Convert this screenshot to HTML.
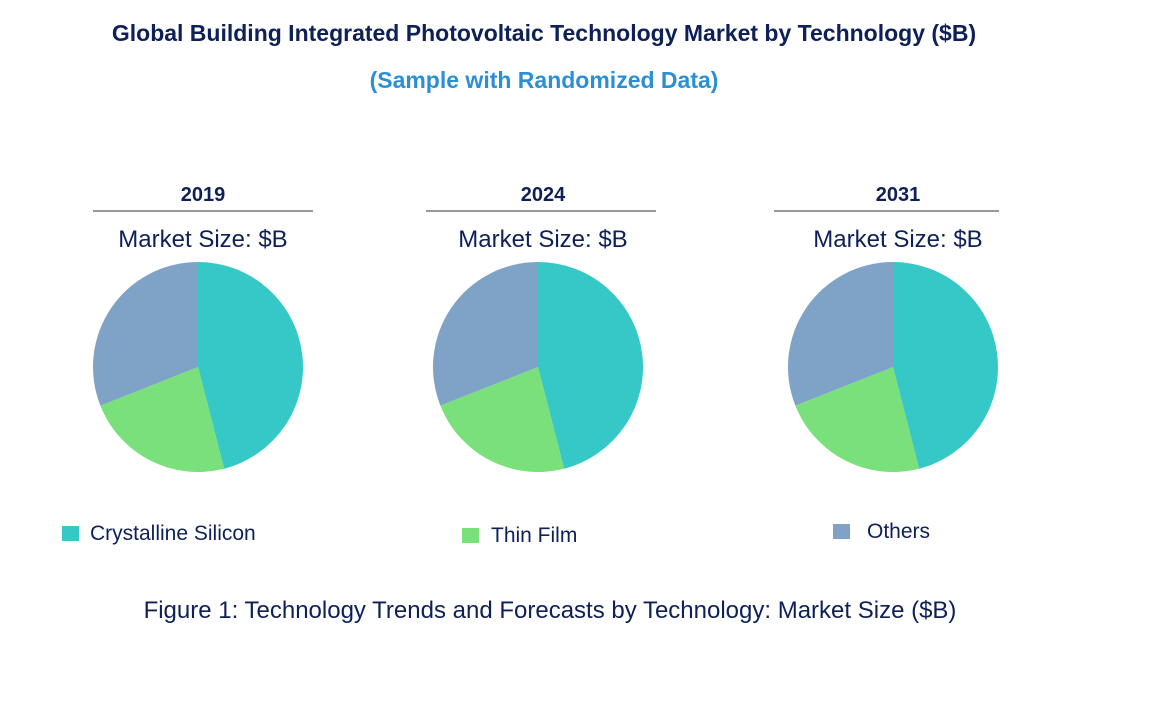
<!DOCTYPE html>
<html><head><meta charset="utf-8"><style>
body{margin:0;width:1170px;height:723px;background:#fff;font-family:"Liberation Sans",sans-serif;overflow:hidden}
svg{position:absolute;left:0;top:0}
</style></head><body>
<svg width="1170" height="723">
<text x="544" y="41" text-anchor="middle" font-size="23" font-weight="bold" fill="#0d2057">Global Building Integrated Photovoltaic Technology Market by Technology ($B)</text>
<text x="544" y="88" text-anchor="middle" font-size="23" font-weight="bold" fill="#2b8fd6">(Sample with Randomized Data)</text>
<g id="pies"></g>
<rect x="62" y="526" width="17" height="15" fill="#36c8c6"/>
<text x="90" y="540" font-size="21" fill="#0d2057">Crystalline Silicon</text>
<rect x="462" y="528" width="17" height="15" fill="#79e07c"/>
<text x="491" y="542" font-size="21" fill="#0d2057">Thin Film</text>
<rect x="833" y="524" width="17" height="15" fill="#7ea3c6"/>
<text x="867" y="538" font-size="21" fill="#0d2057">Others</text>
<text x="550" y="618" text-anchor="middle" font-size="24" fill="#0d2057">Figure 1: Technology Trends and Forecasts by Technology: Market Size ($B)</text>
</svg>
<script>
const years=["2019","2024","2031"];
const crystalline=[46,46,46];
const thinFilm=[23,23,23];
const others=[31,31,31];
const colors=["#36c8c6","#79e07c","#7ea3c6"];
const names=["crystalline","thin-film","others"];
const cx=[198,538,893], lineX=[[93,313],[426,656],[774,999]];
const NS="http://www.w3.org/2000/svg";
const g=document.getElementById("pies");
function mk(t,a){const e=document.createElementNS(NS,t);for(const k in a)e.setAttribute(k,a[k]);g.appendChild(e);return e;}
years.forEach((y,i)=>{
  const t=mk("text",{x:cx[i]+5,y:201,"text-anchor":"middle","font-size":20,"font-weight":"bold",fill:"#0d2057"});
  t.textContent=y;
  
  
  const l=mk("line",{x1:lineX[i][0],x2:lineX[i][1],y1:211,y2:211,stroke:"#333","stroke-width":1});
  
  
  const m=mk("text",{x:cx[i]+5,y:247,"text-anchor":"middle","font-size":24,fill:"#0d2057"});
  m.textContent="Market Size: $B";
  
  
  const vals=[crystalline[i],thinFilm[i],others[i]];
  const tot=vals.reduce((a,b)=>a+b,0);
  let a0=0;const r=105,cy=367;
  vals.forEach((v,j)=>{
    const a1=a0+v/tot*2*Math.PI;
    const x0=cx[i]+r*Math.sin(a0),y0=cy-r*Math.cos(a0),x1=cx[i]+r*Math.sin(a1),y1=cy-r*Math.cos(a1);
    const p=mk("path",{d:`M${cx[i]},${cy}L${x0},${y0}A${r},${r} 0 ${a1-a0>Math.PI?1:0} 1 ${x1},${y1}Z`,fill:colors[j]});
    
    
    a0=a1;
  });
});
</script>
</body></html>
